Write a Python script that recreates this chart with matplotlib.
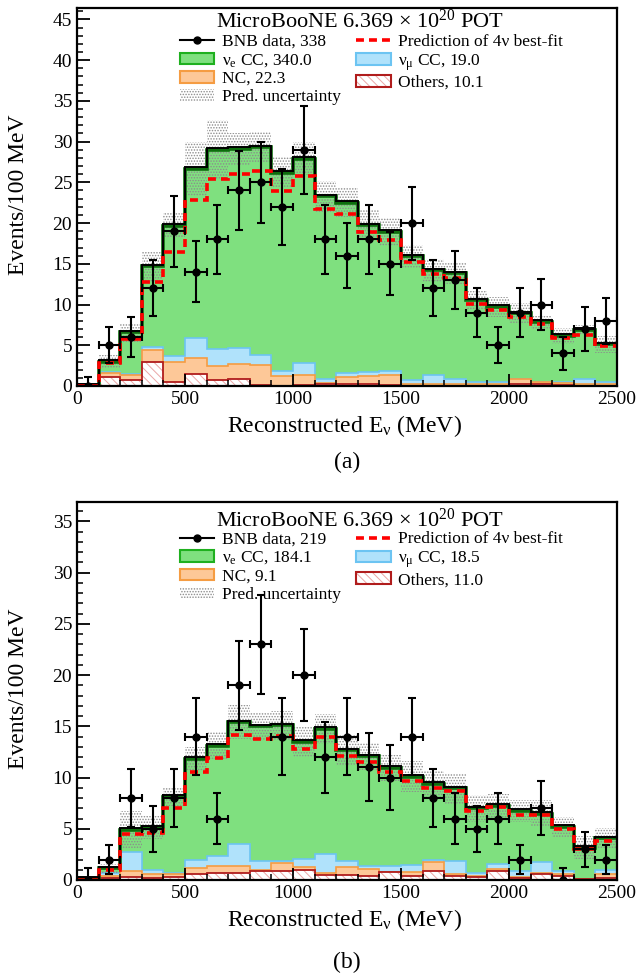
import numpy as np
import matplotlib.pyplot as plt
import matplotlib.transforms as mtransforms
from matplotlib.patches import Patch
from matplotlib.lines import Line2D
from matplotlib.ticker import MultipleLocator

plt.rcParams['font.family'] = ['Liberation Serif', 'DejaVu Serif']
plt.rcParams['mathtext.fontset'] = 'custom'
plt.rcParams['mathtext.rm'] = 'Liberation Serif'
plt.rcParams['mathtext.it'] = 'Liberation Serif:italic'
plt.rcParams['hatch.linewidth'] = 0.7

# -------------------------------
# DATA (100 MeV bins, 0-2500 MeV)
# -------------------------------
edges = np.arange(0, 2600, 100)

# panel (a)
data_a = [0, 5, 6, 12, 19, 14, 18, 24, 25, 22, 29, 18, 16, 18, 15, 20, 12, 13, 9, 5, 9, 10, 4, 7, 8]
nue_a = [0.1, 1.25, 5.15, 9.9, 16.0, 20.7, 24.4, 24.4, 25.5, 24.3, 25.1, 22.4, 20.85, 18.0, 17.05,
         15.15, 12.9, 12.95, 10.0, 9.15, 8.1, 7.3, 5.6, 6.1, 4.65]
numu_a = [0, 0.15, 0.1, 0.4, 0.7, 2.55, 2.1, 2.05, 1.25, 0.6, 1.45, 0.55, 0.55, 0.55, 0.55,
          0.45, 1.0, 0.65, 0.25, 0.35, 0.0, 0.0, 0.15, 0.6, 0.25]
nc_a = [0, 0.55, 0.65, 1.4, 2.5, 1.95, 1.8, 1.85, 2.45, 1.2, 1.25, 0.15, 0.8, 0.9, 1.2,
        0.25, 0.25, 0.2, 0.2, 0.15, 0.5, 0.25, 0.3, 0.15, 0.15]
others_a = [0, 1.05, 0.7, 3.0, 0.5, 1.45, 0.7, 0.8, 0.1, 0.05, 0.1, 0.2, 0.3, 0.3, 0.1,
            0.05, 0.05, 0.05, 0.05, 0.05, 0.3, 0.3, 0.1, 0.05, 0.05]
fit_a = [0, 2.8, 5.8, 12.8, 16.5, 22.8, 25.4, 26.0, 26.4, 23.9, 25.8, 21.7, 21.1, 18.85, 17.95,
         15.2, 13.7, 13.2, 10.1, 9.3, 8.5, 7.6, 5.85, 6.25, 4.9]
unc_a = [0.1, 0.8, 1.15, 1.9, 1.5, 3.3, 3.7, 2.0, 1.9, 1.9, 2.0, 1.9, 1.8, 1.9, 1.7,
         1.4, 1.4, 1.35, 1.2, 1.2, 1.3, 0.8, 1.0, 0.6, 1.05]

# panel (b)
data_b = [0, 2, 8, 5, 8, 14, 6, 19, 23, 14, 20, 12, 14, 11, 10, 14, 8, 6, 5, 6, 2, 7, 0, 3, 2]
nue_b = [0.1, 0.5, 2.2, 4.15, 7.4, 9.85, 10.8, 11.85, 13.1, 13.23, 11.45, 12.25, 10.8, 10.67, 9.6,
         8.62, 7.46, 7.11, 6.26, 5.68, 5.85, 4.74, 4.28, 3.05, 3.08]
numu_b = [0, 0.25, 1.8, 0.45, 0.15, 0.77, 0.98, 2.15, 0.9, 0.2, 0.8, 1.85, 0.55, 0.3, 0.56,
          0.7, 0.2, 1.3, 0.35, 0.5, 0.65, 1.1, 0.3, 0.05, 0.45]
nc_b = [0, 0.2, 0.6, 0.4, 0.22, 0.6, 0.68, 0.7, 0.15, 0.77, 0.3, 0.2, 0.8, 0.68, 0.02,
        0.4, 0.82, 0.15, 0.07, 0.15, 0.05, 0.1, 0.25, 0.0, 0.35]
others_b = [0, 0.2, 0.3, 0.15, 0.33, 0.6, 0.65, 0.7, 0.85, 0.9, 0.95, 0.45, 0.5, 0.42, 0.75,
            0.38, 0.9, 0.4, 0.3, 0.9, 0.2, 0.55, 0.35, 0.05, 0.2]
fit_b = [0, 1.0, 4.5, 4.6, 7.0, 10.5, 11.9, 14.2, 13.8, 14.1, 12.8, 14.0, 12.1, 11.5, 10.5,
         9.7, 8.95, 8.7, 6.75, 7.1, 6.33, 6.33, 5.0, 3.05, 3.8]
unc_b = [0.1, 0.45, 1.8, 1.1, 0.9, 1.15, 1.3, 1.65, 1.4, 1.4, 1.5, 1.5, 1.5, 1.3, 1.3,
         1.5, 1.3, 1.5, 1.3, 1.2, 1.05, 1.3, 1.0, 1.1, 1.0]

labels_a = ['BNB data, 338', r'ν$_{\mathrm{e}}$ CC, 340.0', 'NC, 22.3', 'Pred. uncertainty',
            r'Prediction of 4ν best-fit', r'ν$_{\mathrm{μ}}$ CC, 19.0', 'Others, 10.1']
labels_b = ['BNB data, 219', r'ν$_{\mathrm{e}}$ CC, 184.1', 'NC, 9.1', 'Pred. uncertainty',
            r'Prediction of 4ν best-fit', r'ν$_{\mathrm{μ}}$ CC, 18.5', 'Others, 11.0']

TITLE = r'MicroBooNE 6.369 × 10$^{20}$ POT'

GREEN = '#7fe07f'
GREEN_EDGE = '#1fb01f'
BLUE = '#b0e2fb'
BLUE_EDGE = '#6cc4f2'
ORANGE = '#fdc898'
ORANGE_EDGE = '#f59c42'
OTHER_HATCH = '#eaa6a6'
OTHER_EDGE = '#b01c1c'
FS_LEG = 12.5
FS_LAB = 17
FS_TICK = 14


def draw_panel(ax, fig, data, nue, numu, nc, others, fit, unc, labels, ymax, title_y, leg_y):
    others = np.array(others)
    s_nc = others + np.array(nc)
    s_numu = s_nc + np.array(numu)
    total = s_numu + np.array(nue)
    unc = np.array(unc)

    # stacked components
    ax.stairs(total, edges, baseline=s_numu, fill=True, facecolor=GREEN, lw=0)
    ax.stairs(s_numu, edges, baseline=s_nc, fill=True, facecolor=BLUE, lw=0)
    ax.stairs(s_numu, edges, baseline=0, color=BLUE_EDGE, lw=1.2)
    ax.stairs(s_nc, edges, baseline=others, fill=True, facecolor=ORANGE, lw=0)
    ax.stairs(s_nc, edges, baseline=0, color=ORANGE_EDGE, lw=1.2)
    ax.stairs(others, edges, baseline=0, fill=True, facecolor='white',
              edgecolor=OTHER_HATCH, hatch='\\\\\\\\', lw=0)
    ax.stairs(others, edges, baseline=0, color=OTHER_EDGE, lw=1.3)

    # prediction uncertainty
    ax.stairs(total + unc, edges, baseline=total - unc, fill=True, facecolor='none',
              edgecolor='#8c8c8c', hatch='......', lw=0)

    # total outline (dark green with black on top)
    ax.stairs(total, edges, baseline=None, color='#0d6e0d', lw=2.6)
    up = mtransforms.offset_copy(ax.transData, fig=fig, x=0, y=1.6, units='dots')
    ax.stairs(total, edges, baseline=None, color='black', lw=1.4, transform=up)

    # 4nu best fit
    ax.stairs(fit, edges, baseline=None, color='red', lw=2.6, linestyle=(0, (2.2, 1.4)))

    # data
    data = np.array(data, dtype=float)
    centers = edges[:-1] + 50
    err_hi = np.where(data > 0, np.sqrt(data), 1.15)
    err_lo = np.sqrt(data)
    ax.errorbar(centers, data, yerr=[err_lo, err_hi], xerr=50, fmt='o', color='black',
                ms=5, elinewidth=1.5, capsize=3, capthick=1.5, zorder=10)

    ax.set_xlim(0, 2500)
    ax.set_ylim(0, ymax)
    ax.xaxis.set_major_locator(MultipleLocator(500))
    ax.xaxis.set_minor_locator(MultipleLocator(100))
    ax.yaxis.set_major_locator(MultipleLocator(5))
    ax.yaxis.set_minor_locator(MultipleLocator(1))
    ax.tick_params(which='both', direction='in', top=False, right=False, labelsize=FS_TICK)
    ax.tick_params(which='major', length=9, width=1.3)
    ax.tick_params(which='minor', length=4.5, width=1.1)
    for sp in ax.spines.values():
        sp.set_linewidth(1.6)
    ax.set_xlabel(r'Reconstructed E$_{\mathrm{ν}}$ (MeV)', fontsize=FS_LAB)
    ax.set_ylabel('Events/100 MeV', fontsize=FS_LAB, va='center')
    ax.xaxis.set_label_coords(0.495, -0.072)
    ax.yaxis.set_label_coords(-0.109, 0.505)

    ax.text(0.524, title_y, TITLE, transform=ax.transAxes, ha='center', va='center',
            fontsize=16)

    h_data = Line2D([], [], color='black', lw=1.5, marker='o', ms=5)
    h_nue = Patch(facecolor=GREEN, edgecolor=GREEN_EDGE, lw=1.5)
    h_nc = Patch(facecolor=ORANGE, edgecolor=ORANGE_EDGE, lw=1.5)
    h_unc = Patch(facecolor='white', edgecolor='#8c8c8c', hatch='......', lw=0)
    h_fit = Line2D([], [], color='red', lw=2.6, linestyle=(0, (2.2, 1.4)))
    h_numu = Patch(facecolor=BLUE, edgecolor=BLUE_EDGE, lw=1.5)
    h_oth = (Patch(facecolor='white', edgecolor=OTHER_HATCH, hatch='\\\\\\\\', lw=0),
             Patch(facecolor='none', edgecolor=OTHER_EDGE, lw=1.5))
    ax.legend([h_data, h_nue, h_nc, h_unc, h_fit, h_numu, h_oth], labels, ncol=2,
              loc='upper left', bbox_to_anchor=(0.19, leg_y), frameon=False,
              fontsize=FS_LEG, handlelength=2.0, handleheight=0.65, labelspacing=0.12,
              columnspacing=0.85, handletextpad=0.45, borderpad=0, borderaxespad=0)


fig = plt.figure(figsize=(6.38, 9.77), dpi=100)
ax1 = fig.add_axes([77 / 638, (977 - 386) / 977, 540 / 638, 378 / 977])
ax2 = fig.add_axes([77 / 638, (977 - 880) / 977, 540 / 638, 378 / 977])

draw_panel(ax1, fig, data_a, nue_a, numu_a, nc_a, others_a, fit_a, unc_a, labels_a, 46.4,
           0.9656, 0.931)
draw_panel(ax2, fig, data_b, nue_b, numu_b, nc_b, others_b, fit_b, unc_b, labels_b, 36.9,
           0.952, 0.922)

fig.text(347 / 638, (977 - 462) / 977, '(a)', ha='center', va='center', fontsize=FS_LAB)
fig.text(347 / 638, (977 - 962) / 977, '(b)', ha='center', va='center', fontsize=FS_LAB)

fig.savefig('out.png', dpi=100)
